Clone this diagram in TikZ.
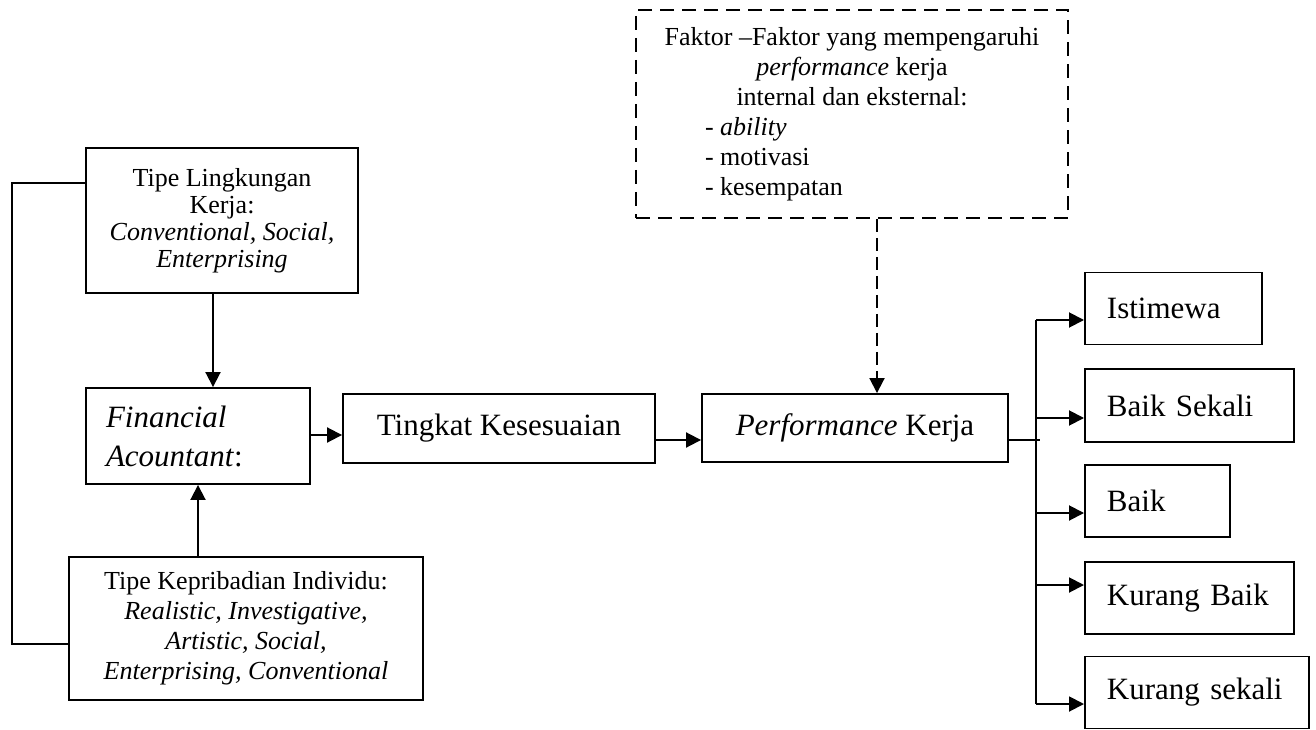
\documentclass[tikz,border=0pt]{standalone}
\usepackage{fontspec}
\setmainfont{Liberation Serif}
\usetikzlibrary{arrows.meta}
\begin{document}
\begin{tikzpicture}[x=1pt,y=-1pt,
  every node/.style={inner sep=0pt},
  box/.style={draw, line width=1.9pt, align=center},
  smallf/.style={font={\fontsize{26}{30}\selectfont}},
  bigf/.style={font={\fontsize{31}{39}\selectfont}},
  resbox/.style={draw, line width=1.9pt, anchor=west, align=left, inner xsep=22pt, minimum height=72pt, font={\fontsize{31}{39}\selectfont}},
  dashbox/.style={draw, line width=1.9pt, dash pattern=on 14pt off 8pt, align=center},
  link/.style={line width=1.9pt},
  arr/.style={line width=1.9pt, -{Triangle[length=15pt,width=15pt]}},
  darr/.style={line width=1.9pt, dash pattern=on 13pt off 6pt, -{Triangle[length=15pt,width=15pt]}}
]
\useasboundingbox (0,0) rectangle (1316,730);

% left column
\node[box, font={\fontsize{26}{27}\selectfont}, minimum width=272pt, minimum height=145pt] (ling) at (222,220.5)
  {Tipe Lingkungan\\Kerja:\\\textit{Conventional, Social,}\\\textit{Enterprising}};
\node[box, bigf, align=left, text width=184pt, minimum width=224pt, minimum height=96pt] (fin) at (198,436)
  {\textit{Financial}\\\textit{Acountant}:};
\node[box, smallf, minimum width=354pt, minimum height=143pt] (kep) at (246,628.5)
  {Tipe Kepribadian Individu:\\\textit{Realistic, Investigative,}\\\textit{Artistic, Social,}\\\textit{Enterprising, Conventional}};

% middle
\node[box, bigf, minimum width=312pt, minimum height=69pt] (ting) at (499,428.5) {Tingkat Kesesuaian};
\node[box, bigf, minimum width=306pt, minimum height=68pt] (perf) at (855,428) {\textit{Performance} Kerja};
\node[dashbox, smallf, minimum width=432pt, minimum height=208pt] (fak) at (852,114)
  {Faktor –Faktor yang mempengaruhi\\\textit{performance} kerja\\internal dan eksternal:\\
   \makebox[294pt][l]{- \textit{ability}}\\\makebox[294pt][l]{- motivasi}\\\makebox[294pt][l]{- kesempatan}};

% results
\node[resbox, minimum width=177pt, text width=133pt] (ist) at (1084,308.5) {Istimewa};
\node[resbox, minimum width=209pt, text width=165pt, minimum height=73pt] (bsek) at (1084,405.5) {Baik Sekali};
\node[resbox, minimum width=145pt, text width=101pt] (baik) at (1084,501) {Baik};
\node[resbox, minimum width=209pt, text width=165pt] (kbaik) at (1084,598) {Kurang Baik};
\node[resbox, minimum width=224pt, text width=180pt] (ksek) at (1084,692.5) {Kurang sekali};

% helper coordinates
\coordinate (lnA) at (12,183);
\coordinate (lnB) at (12,644);
\coordinate (xa) at (213,0);
\coordinate (xb) at (198,0);
\coordinate (ya) at (0,435);
\coordinate (yb) at (0,440);
\coordinate (xd) at (877,0);
\coordinate (tr) at (1040,440);
\coordinate (t1) at (1036,320);
\coordinate (t2) at (1036,418);
\coordinate (t3) at (1036,513);
\coordinate (t4) at (1036,585);
\coordinate (t5) at (1036,704);

% connectors
\draw[link] (ling.west |- lnA) -- (lnA) -- (lnB) -- (kep.west |- lnB);
\draw[arr] (ling.south -| xa) -- (fin.north -| xa);
\draw[arr] (kep.north -| xb) -- (fin.south -| xb);
\draw[arr] (fin.east |- ya) -- (ting.west |- ya);
\draw[arr] (ting.east |- yb) -- (perf.west |- yb);
\draw[darr] (fak.south -| xd) -- (perf.north -| xd);
\draw[link] (perf.east |- tr) -- (tr);
\draw[link] (t1) -- (t5);
\draw[arr] (t1) -- (t1 -| ist.west);
\draw[arr] (t2) -- (t2 -| bsek.west);
\draw[arr] (t3) -- (t3 -| baik.west);
\draw[arr] (t4) -- (t4 -| kbaik.west);
\draw[arr] (t5) -- (t5 -| ksek.west);
\end{tikzpicture}
\end{document}
